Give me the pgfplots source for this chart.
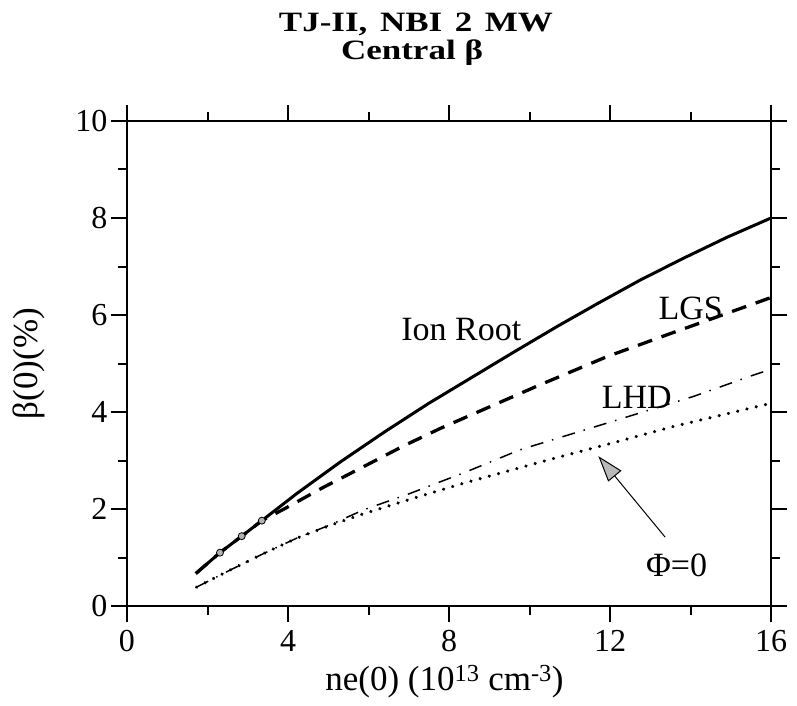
\documentclass[border=0pt]{standalone}
\usepackage{fontspec}
\setmainfont{Liberation Serif}
\newfontfamily\titlefont{Liberation Serif}[FakeStretch=1.25]
\usepackage{pgfplots}
\pgfplotsset{compat=1.18}
\usetikzlibrary{arrows.meta}
\begin{document}
\begin{tikzpicture}
\path[use as bounding box] (0,0) rectangle (797pt,705pt);
\begin{axis}[
  at={(127pt,99pt)}, anchor=south west,
  width=644pt, height=485pt, scale only axis,
  xmin=0, xmax=16, ymin=0, ymax=10,
  xtick={0,4,8,12,16}, minor xtick={2,6,10,14},
  ytick={0,2,4,6,8,10}, minor ytick={1,3,5,7,9},
  tick align=outside,
  major tick length=16pt, minor tick length=9pt,
  every tick/.style={black, line width=2pt},
  axis line style={line width=2.6pt},
  tick label style={font=\fontsize{32}{32}\selectfont},
  xticklabel style={yshift=-5pt},
  /pgf/number format/assume math mode=true,
  xlabel={ne(0) (10\textsuperscript{13} cm\textsuperscript{-3})},
  ylabel={β(0)(\%)},
  label style={font=\fontsize{35}{35}\selectfont},
  xlabel style={at={(axis description cs:0.493,-0.174)}, anchor=base},
  ylabel style={at={(axis description cs:-0.152,0.5)}, anchor=center},
  clip=false,
]
% Phi = 0 (dotted)
\addplot[black, line width=3.5pt, line cap=round, dash pattern=on 0.01pt off 9.5pt] coordinates {
 (1.73,0.39) (2.56,0.74) (3.39,1.08) (4.22,1.40) (5.04,1.66) (5.87,1.90)
 (7.11,2.22) (8.44,2.55) (10.68,3.06) (11.92,3.33) (13.57,3.70) (16.0,4.18)};
% LHD (dash-dot)
\addplot[black, line width=1.5pt, dash pattern=on 13pt off 9pt on 1.5pt off 9.5pt] coordinates {
 (1.73,0.39) (2.56,0.74) (3.39,1.08) (4.22,1.40) (5.04,1.67) (5.87,1.98)
 (7.03,2.32) (8.44,2.77) (9.76,3.22) (11.92,3.77) (14.07,4.32) (15.56,4.76) (16.0,4.88)};
% LGS (dashed)
\addplot[black, line width=3.3pt, dash pattern=on 15pt off 10pt] coordinates {
 (1.71,0.67) (2.31,1.10) (2.85,1.44) (3.35,1.76) (3.88,1.99) (4.84,2.43) (5.87,2.87)
 (6.87,3.30) (7.78,3.66) (8.44,3.90) (10.26,4.56) (11.92,5.14) (13.41,5.59) (16.0,6.36)};
% Ion Root (solid)
\addplot[black, line width=3pt] coordinates {
 (1.71,0.67) (2.31,1.10) (2.85,1.44) (3.35,1.76) (4.22,2.32) (5.3,2.97) (6.4,3.59)
 (7.5,4.18) (8.6,4.73) (9.6,5.23) (10.7,5.77) (11.7,6.24) (12.75,6.72)
 (13.8,7.16) (14.9,7.60) (16.0,8.0)};
% small gray marks on the curve
\addplot[only marks, mark=*, mark size=3.5pt, mark options={fill=gray!60, draw=black, line width=0.8pt}] coordinates {
 (2.31,1.10) (2.85,1.44) (3.35,1.76)};
% annotations
\node[anchor=base east, inner sep=0pt, font=\fontsize{34}{34}\selectfont] at (axis cs:9.8,5.48) {Ion Root};
\node[anchor=base west, inner sep=0pt, font=\fontsize{34}{34}\selectfont] at (axis cs:13.2,5.9) {LGS};
\node[anchor=base west, inner sep=0pt, font=\fontsize{34}{34}\selectfont] at (axis cs:11.79,4.08) {LHD};
\node[anchor=base west, inner sep=0pt, font=\fontsize{34}{34}\selectfont] at (axis cs:12.89,0.60) {Φ=0};
\draw[line width=1pt, -{Triangle[length=26pt,width=17pt,fill=gray!55]}] (axis cs:13.37,1.42) -- (axis cs:11.71,3.09);
\end{axis}
\node[anchor=base, inner sep=0pt, font=\titlefont\bfseries\fontsize{28}{28}\selectfont] at (416pt,673pt) {TJ-II,\hspace{0.45em}NBI\hspace{0.45em}2\hspace{0.45em}MW};
\node[anchor=base, inner sep=0pt, font=\titlefont\bfseries\fontsize{28}{28}\selectfont] at (412pt,645pt) {Central β};
\end{tikzpicture}
\end{document}
